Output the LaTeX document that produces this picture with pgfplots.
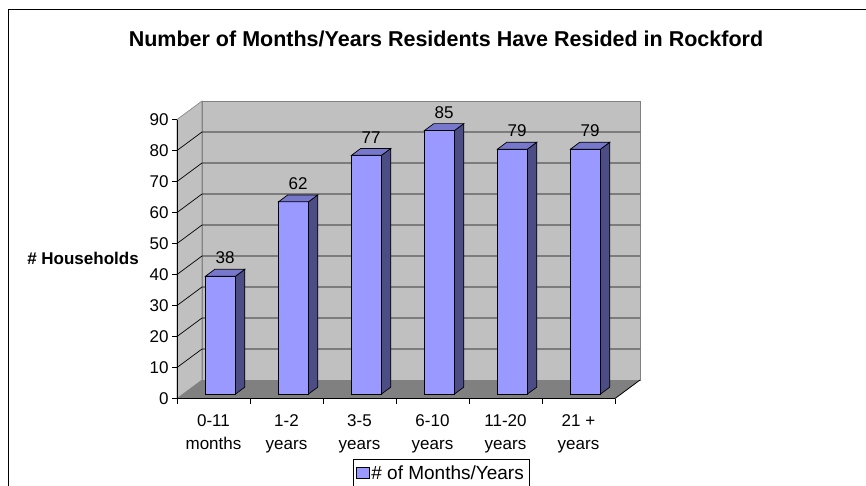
\documentclass[border=0pt]{standalone}
\usepackage{pgfplots}
\pgfplotsset{compat=1.18}
\usepackage{fontspec}
\setmainfont{Liberation Sans}
\usetikzlibrary{calc}
\definecolor{barfront}{HTML}{9999FF}
\definecolor{bartop}{HTML}{7777CC}
\definecolor{barside}{HTML}{4D4D85}
\definecolor{wall}{HTML}{C0C0C0}
\definecolor{floorc}{HTML}{808080}
\pgfdeclareplotmark{emptymark}{}
\newcommand{\lblfont}{\fontsize{17}{22.7}\selectfont}
\begin{document}
\begin{tikzpicture}[x=1pt,y=1pt]
\path[use as bounding box] (0,0) rectangle (866,-485);
\draw[line width=1.3pt] (8.5,-495) -- (8.5,-9.5) -- (875,-9.5);
\node[font=\bfseries\fontsize{21.5}{25}\selectfont, anchor=base] at (446,-46) {Number of Months/Years Residents Have Resided in Rockford};

\begin{axis}[at={(177pt,-398.5pt)}, anchor=south west,
  x=73pt, y=3.1pt, xmin=-0.5, xmax=5.5, ymin=0, ymax=90, clip=false,
  axis on top,
  axis x line*=bottom, axis y line*=left, axis line style={-, line width=0.8pt},
  xtick={-0.5,0.5,...,5.5}, xticklabels={},
  extra x ticks={0,1,2,3,4,5},
  extra x tick labels={{0-11\\months},{1-2\\years},{3-5\\years},{6-10\\years},{11-20\\years},{21 +\\years}},
  extra x tick style={major tick length=0pt},
  xticklabel style={align=center, font=\lblfont, yshift=-13pt},
  ytick={0,10,...,90},
  tick align=outside, major tick length=5pt, tick style={black, line width=0.8pt},
  yticklabel style={font=\lblfont},
  /pgf/number format/assume math mode=true,
  every axis y label/.style={at={(axis description cs:-0.2146,0.5036)}, anchor=center, font=\bfseries\lblfont},
  ylabel={\# Households},
]
\fill[wall, draw=floorc, line width=0.8pt] ($(axis cs:-0.5,0)+(25pt,18.5pt)$) rectangle ($(axis cs:5.5,90)+(25pt,18.5pt)$);
\fill[wall, draw=floorc, line width=0.6pt] (axis cs:-0.5,0) -- (axis cs:-0.5,90) -- ($(axis cs:-0.5,90)+(25pt,18.5pt)$) -- ($(axis cs:-0.5,0)+(25pt,18.5pt)$) -- cycle;
\pgfplotsinvokeforeach{10,20,...,80}{
  \draw[black, line width=0.7pt] (axis cs:-0.5,#1) -- ($(axis cs:-0.5,#1)+(25pt,18.5pt)$) -- ($(axis cs:5.5,#1)+(25pt,18.5pt)$);
}
\fill[floorc] (axis cs:-0.5,0) -- (axis cs:5.5,0) -- ($(axis cs:5.5,0)+(25pt,18.5pt)$) -- ($(axis cs:-0.5,0)+(25pt,18.5pt)$) -- cycle;
\draw[black, line width=0.8pt] (axis cs:5.5,0) -- ($(axis cs:5.5,0)+(25pt,18.5pt)$);
\end{axis}

\begin{axis}[at={(184pt,-394pt)}, anchor=south west,
  x=73pt, y=3.1pt, xmin=-0.5, xmax=5.5, ymin=0, ymax=90, clip=false, hide axis,
  /pgf/number format/assume math mode=true,
  legend style={at={(axis description cs:0.3858,-0.233)}, anchor=north west, draw=black, line width=0.6pt, font=\fontsize{19}{22}\selectfont, inner xsep=3pt, inner ysep=4pt},
]
\addplot[ybar, bar width=30pt, fill=barfront, draw=black, line width=0.7pt,
  nodes near coords,
  every node near coord/.append style={anchor=base, xshift=4.65pt, yshift=12.3pt, font=\lblfont, black},
  legend image code/.code={\draw[fill=barfront, line width=0.6pt] (-2pt,-5.5pt) rectangle (10.5pt,5.5pt);}]
  coordinates {(0,38) (1,62) (2,77) (3,85) (4,79) (5,79)};
\addlegendentry{\# of Months/Years}
\addplot[scatter, only marks, mark=emptymark, forget plot,
  visualization depends on={y \as \rawy},
  scatter/@pre marker code/.code={%
    \pgfmathsetmacro\hh{\rawy*3.1}%
    \filldraw[fill=barside, draw=black, line width=0.7pt] (15pt,0pt) -- (24.3pt,6.9pt) -- (24.3pt,6.9pt-\hh pt) -- (15pt,-\hh pt) -- cycle;
    \filldraw[fill=bartop, draw=black, line width=0.7pt] (-15pt,0pt) -- (-5.7pt,6.9pt) -- (24.3pt,6.9pt) -- (15pt,0pt) -- cycle;
  },
  scatter/@post marker code/.code={}]
  coordinates {(0,38) (1,62) (2,77) (3,85) (4,79) (5,79)};
\end{axis}
\end{tikzpicture}
\end{document}
